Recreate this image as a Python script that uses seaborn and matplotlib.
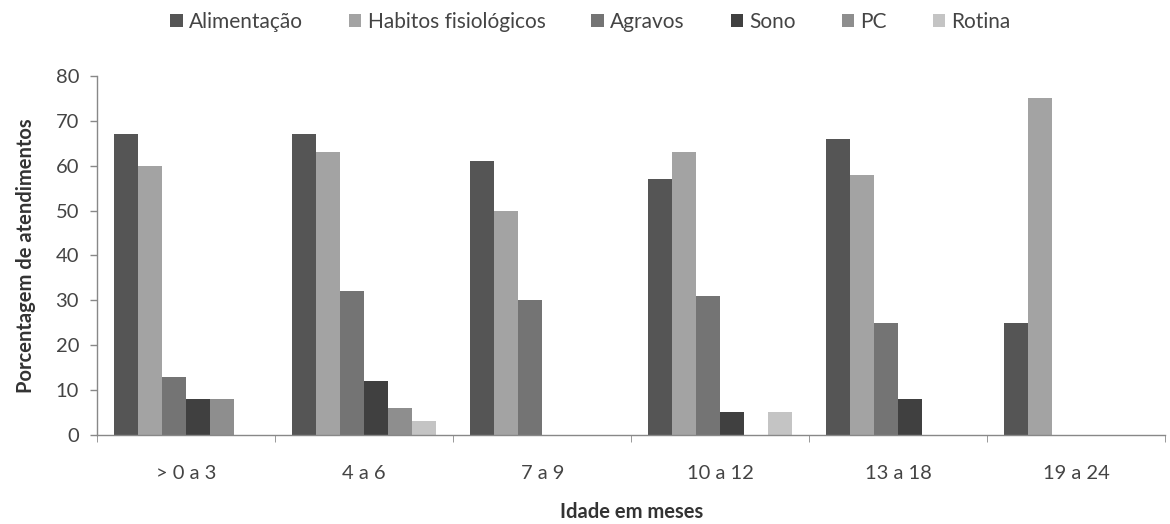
import matplotlib
matplotlib.use("Agg")
import matplotlib.pyplot as plt
import seaborn as sns
import pandas as pd
import numpy as np

categories = ["> 0 a 3", "4 a 6", "7 a 9", "10 a 12", "13 a 18", "19 a 24"]
series = ["Alimentação", "Habitos fisiológicos", "Agravos", "Sono", "PC", "Rotina"]
alimentacao = [67, 67, 61, 57, 66, 25]
habitos = [60, 63, 50, 63, 58, 75]
agravos = [13, 32, 30, 31, 25, 0]
sono = [8, 12, 0, 5, 8, 0]
pc = [8, 6, 0, 0, 0, 0]
rotina = [0, 3, 0, 5, 0, 0]
colors = ["#555555", "#a3a3a3", "#747474", "#404040", "#8e8e8e", "#c4c4c4"]

values = [alimentacao, habitos, agravos, sono, pc, rotina]
rows = []
for s, vals in zip(series, values):
    for c, v in zip(categories, vals):
        rows.append({"Idade": c, "Serie": s, "Valor": v})
df = pd.DataFrame(rows)

sns.set_style("white")
plt.rcParams["font.family"] = ["Lato", "DejaVu Sans"]

fig = plt.figure(figsize=(11.7, 5.24), dpi=100)
ax = fig.add_axes([0.083, 0.170, 0.913, 0.685])

sns.barplot(data=df, x="Idade", y="Valor", hue="Serie", order=categories,
            hue_order=series, palette=colors, width=0.81, saturation=1,
            errorbar=None, ax=ax, linewidth=0)

ax.set_ylim(0, 80)
ax.set_xlim(-0.5, len(categories) - 0.5)
ax.set_yticks(np.arange(0, 81, 10))
ax.tick_params(axis="y", labelsize=14.5, colors="#444444", length=5, width=1,
               direction="out", left=True, color="#888888", pad=8)
ax.set_xticks(np.arange(-0.5, len(categories), 1.0), minor=True)
ax.tick_params(axis="x", which="minor", length=5, color="#888888", bottom=True)
ax.tick_params(axis="x", which="major", length=0, labelsize=14.5, colors="#444444", pad=22)

for side in ["top", "right"]:
    ax.spines[side].set_visible(False)
for side in ["left", "bottom"]:
    ax.spines[side].set_color("#888888")
    ax.spines[side].set_linewidth(1)

ax.set_xlabel("Idade em meses", fontsize=14.5, fontweight="bold", color="#333333", labelpad=14)
ax.set_ylabel("Porcentagem de atendimentos", fontsize=14.5, fontweight="bold", color="#333333", labelpad=14)

ax.legend(ncol=6, frameon=False, loc="center", bbox_to_anchor=(0.462, 1.15),
          fontsize=15, handlelength=0.6, handleheight=0.6, handletextpad=0.3,
          columnspacing=2.2, labelcolor="#444444")

fig.savefig("out.png", dpi=100)
